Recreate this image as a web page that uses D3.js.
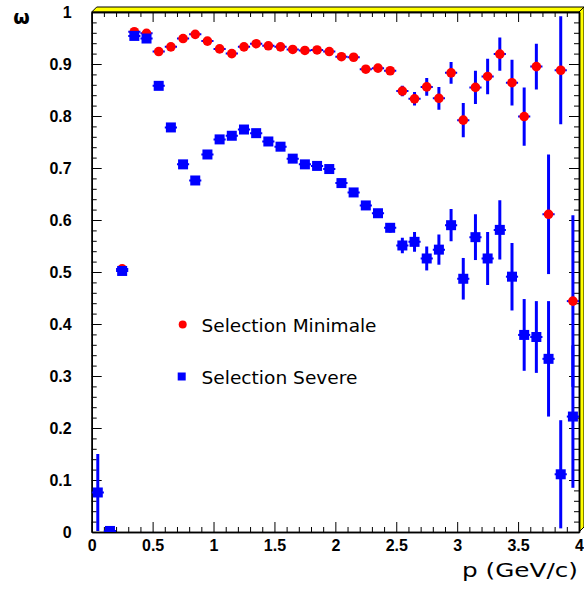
<!DOCTYPE html>
<html>
<head>
<meta charset="utf-8">
<script src="https://cdn.jsdelivr.net/npm/d3@7"></script>
<style>
html,body{margin:0;padding:0;background:#fff;}
svg{display:block;}
</style>
</head>
<body>
<svg id="chart" width="584" height="594"></svg>
<script>
// ---- data ----
const pMin = [0.25,0.35,0.45,0.55,0.65,0.75,0.85,0.95,1.05,1.15,1.25,1.35,1.45,1.55,1.65,1.75,1.85,1.95,2.05,2.15,2.25,2.35,2.45,2.55,2.65,2.75,2.85,2.95,3.05,3.15,3.25,3.35,3.45,3.55,3.65,3.75,3.85,3.95];
const effMin = [0.506,0.962,0.959,0.924,0.933,0.949,0.957,0.944,0.929,0.920,0.933,0.939,0.935,0.933,0.928,0.926,0.927,0.924,0.914,0.913,0.890,0.892,0.887,0.848,0.833,0.856,0.834,0.883,0.792,0.855,0.876,0.919,0.864,0.799,0.895,0.611,0.888,0.444];
const errMin = [0.004,0.002,0.002,0.003,0.003,0.003,0.003,0.003,0.003,0.003,0.003,0.003,0.003,0.004,0.004,0.004,0.004,0.005,0.005,0.005,0.006,0.006,0.007,0.010,0.013,0.017,0.022,0.021,0.033,0.032,0.034,0.032,0.044,0.056,0.044,0.115,0.104,0.165];

const pSev = [0.05,0.15,0.25,0.35,0.45,0.55,0.65,0.75,0.85,0.95,1.05,1.15,1.25,1.35,1.45,1.55,1.65,1.75,1.85,1.95,2.05,2.15,2.25,2.35,2.45,2.55,2.65,2.75,2.85,2.95,3.05,3.15,3.25,3.35,3.45,3.55,3.65,3.75,3.85,3.95];
const effSev = [0.076,0.002,0.502,0.954,0.949,0.858,0.778,0.707,0.676,0.726,0.755,0.762,0.774,0.767,0.751,0.741,0.718,0.707,0.704,0.698,0.671,0.653,0.628,0.613,0.585,0.551,0.558,0.526,0.543,0.590,0.487,0.567,0.526,0.581,0.491,0.379,0.375,0.333,0.111,0.222];
const errSev = [0.074,0.000,0.004,0.003,0.003,0.004,0.004,0.004,0.004,0.004,0.004,0.004,0.005,0.005,0.005,0.005,0.005,0.005,0.006,0.006,0.006,0.007,0.007,0.008,0.009,0.015,0.019,0.023,0.029,0.031,0.040,0.044,0.051,0.057,0.065,0.069,0.069,0.111,0.104,0.137];

const binHalf = 0.05;
const xTicks = [0,0.5,1,1.5,2,2.5,3,3.5,4];
const xTickLabels = ["0","0.5","1","1.5","2","2.5","3","3.5","4"];
const yTicks = [0,0.1,0.2,0.3,0.4,0.5,0.6,0.7,0.8,0.9,1];
const yTickLabels = ["0","0.1","0.2","0.3","0.4","0.5","0.6","0.7","0.8","0.9","1"];
const legendLabels = ["Selection Minimale","Selection Severe"];
const xTitle = "p (GeV/c)";
const yTitle = "ω";

// ---- layout ----
const L = 91.7, R = 579, T = 12, B = 532;
const svg = d3.select("#chart");
const x = d3.scaleLinear().domain([0,4]).range([L,R]);
const y = d3.scaleLinear().domain([0,1]).range([B,T]);

// yellow 3D frame
svg.append("polygon")
  .attr("points", `${L},${T} ${L+5},${T-5} ${R+5},${T-5} ${R},${T}`)
  .attr("fill","#ffff00").attr("stroke","#000").attr("stroke-width",1);
svg.append("polygon")
  .attr("points", `${R},${T} ${R+5},${T-5} ${R+5},${B-5} ${R},${B}`)
  .attr("fill","#ffff00").attr("stroke","#000").attr("stroke-width",1);

svg.append("rect").attr("x",L).attr("y",T).attr("width",R-L).attr("height",B-T).attr("fill","#fff");

svg.append("clipPath").attr("id","clip").append("rect")
  .attr("x",L).attr("y",T).attr("width",R-L).attr("height",B-T);

// ---- axes ----
const xMinor = d3.range(0,4.0001,0.1).filter(v => Math.abs(v*2-Math.round(v*2))>1e-6);
const yMinor = d3.range(0,1.0001,0.02).filter(v => Math.abs(v*10-Math.round(v*10))>1e-6);

function styleAxis(g){
  g.select(".domain").attr("stroke","#000").attr("stroke-width",1.5);
  g.selectAll(".tick line").attr("stroke","#000").attr("stroke-width",1);
}
// bottom
svg.append("g").attr("transform",`translate(0,${B})`)
  .call(d3.axisBottom(x).tickValues(xMinor).tickSize(-5).tickFormat("").tickSizeOuter(0)).call(styleAxis);
const gxb = svg.append("g").attr("transform",`translate(0,${B})`)
  .call(d3.axisBottom(x).tickValues(xTicks).tickSize(-10).tickSizeOuter(0).tickPadding(19)
    .tickFormat((d,i)=>xTickLabels[i])).call(styleAxis);
gxb.selectAll("text").attr("font-family","Liberation Sans, Arial, sans-serif").attr("font-size",16)
  .attr("font-weight","bold").attr("fill","#000").attr("dy","0");
// top
svg.append("g").attr("transform",`translate(0,${T})`)
  .call(d3.axisTop(x).tickValues(xMinor).tickSize(-5).tickFormat("").tickSizeOuter(0)).call(styleAxis);
svg.append("g").attr("transform",`translate(0,${T})`)
  .call(d3.axisTop(x).tickValues(xTicks).tickSize(-10).tickFormat("").tickSizeOuter(0)).call(styleAxis);
// left
svg.append("g").attr("transform",`translate(${L},0)`)
  .call(d3.axisLeft(y).tickValues(yMinor).tickSize(-5).tickFormat("").tickSizeOuter(0)).call(styleAxis);
const gyl = svg.append("g").attr("transform",`translate(${L},0)`)
  .call(d3.axisLeft(y).tickValues(yTicks).tickSize(-10).tickSizeOuter(0).tickPadding(20)
    .tickFormat((d,i)=>yTickLabels[i])).call(styleAxis);
gyl.selectAll("text").attr("font-family","Liberation Sans, Arial, sans-serif").attr("font-size",16)
  .attr("font-weight","bold").attr("fill","#000");
// right
svg.append("g").attr("transform",`translate(${R},0)`)
  .call(d3.axisRight(y).tickValues(yMinor).tickSize(-5).tickFormat("").tickSizeOuter(0)).call(styleAxis);
svg.append("g").attr("transform",`translate(${R},0)`)
  .call(d3.axisRight(y).tickValues(yTicks).tickSize(-10).tickFormat("").tickSizeOuter(0)).call(styleAxis);

// ---- data marks ----
const plot = svg.append("g").attr("clip-path","url(#clip)");
const blue = "#0000ff", red = "#ff0000";

function drawSeries(ps, vs, es, shape, color){
  const data = ps.map((p,i)=>({p, v: vs[i], e: es[i]}));
  const g = plot.append("g");
  // horizontal error bars
  g.selectAll(null).data(data).enter().append("line")
    .attr("x1", d=>x(d.p-binHalf)).attr("x2", d=>x(d.p+binHalf))
    .attr("y1", d=>y(d.v)).attr("y2", d=>y(d.v))
    .attr("stroke", blue).attr("stroke-width", 2);
  // vertical error bars
  g.selectAll(null).data(data.filter(d=>d.e>0)).enter().append("line")
    .attr("x1", d=>x(d.p)).attr("x2", d=>x(d.p))
    .attr("y1", d=>y(d.v-d.e)).attr("y2", d=>y(d.v+d.e))
    .attr("stroke", blue).attr("stroke-width", 3);
  if(shape==="circle"){
    g.selectAll(null).data(data).enter().append("circle")
      .attr("cx", d=>x(d.p)).attr("cy", d=>y(d.v)).attr("r", 4.8).attr("fill", color);
  } else {
    g.selectAll(null).data(data).enter().append("rect")
      .attr("x", d=>x(d.p)-5).attr("y", d=>y(d.v)-5).attr("width",10).attr("height",10).attr("fill", color);
  }
}
drawSeries(pMin, effMin, errMin, "circle", red);
drawSeries(pSev, effSev, errSev, "square", blue);

// ---- legend ----
const lg = svg.append("g");
lg.append("circle").attr("cx",182.7).attr("cy",324.5).attr("r",4).attr("fill",red);
lg.append("rect").attr("x",177.7).attr("y",372.5).attr("width",8).attr("height",8).attr("fill",blue);
const legFont = "DejaVu Sans, Verdana, sans-serif";
lg.append("text").attr("x",201.5).attr("y",331.5).text(legendLabels[0])
  .attr("font-family",legFont).attr("font-size",17.5).attr("fill","#000")
  .attr("textLength",175).attr("lengthAdjust","spacingAndGlyphs");
lg.append("text").attr("x",201.5).attr("y",383.5).text(legendLabels[1])
  .attr("font-family",legFont).attr("font-size",17.5).attr("fill","#000")
  .attr("textLength",156).attr("lengthAdjust","spacingAndGlyphs");

// ---- titles ----
svg.append("text").attr("x",578).attr("y",577).attr("text-anchor","end").text(xTitle)
  .attr("font-family",legFont).attr("font-size",20).attr("fill","#000")
  .attr("textLength",116).attr("lengthAdjust","spacingAndGlyphs");
svg.append("text").attr("x",21.5).attr("y",23.5).attr("text-anchor","middle").text(yTitle)
  .attr("font-family",legFont).attr("font-size",19).attr("font-weight","bold").attr("fill","#000");
</script>
</body>
</html>
